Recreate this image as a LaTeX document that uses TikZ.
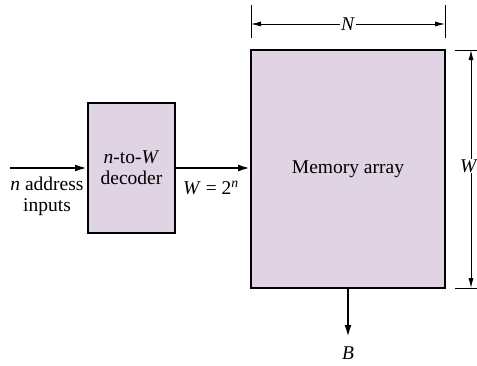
\documentclass[tikz,border=0pt]{standalone}
\usepackage{fontspec}
\setmainfont{Liberation Serif}
\usetikzlibrary{arrows.meta}
\definecolor{boxfill}{RGB}{224,212,228}
\begin{document}
\begin{tikzpicture}[x=1pt,y=-1pt,
  blk/.style={draw=black,line width=2pt,fill=boxfill,inner sep=0pt,font=\fontsize{19.5}{21}\selectfont,align=center},
  sig/.style={line width=2pt,-{Latex[length=12pt,width=7pt]}},
  dim/.style={line width=0.8pt,{Latex[length=10pt,width=5pt]}-{Latex[length=10pt,width=5pt]}},
  tick/.style={line width=0.8pt},
  lbl/.style={font=\fontsize{19.5}{21}\selectfont,inner sep=1pt,align=center}]
\useasboundingbox (0,0) rectangle (477,365);
\node[blk,minimum width=87pt,minimum height=130pt] (dec) at (131.5,168) {\textit{n}-to-\textit{W}\\decoder};
\node[blk,minimum width=194pt,minimum height=238pt] (mem) at (348,169) {Memory array};
\coordinate (in) at (10,168);
\draw[sig] (in) -- (dec.west);
\draw[sig] (dec.east) -- (mem.west |- dec.east);
\node[lbl] (inl) at (47,196) {\textit{n} address\\inputs};
\node[lbl] (wl) at (211,188) {\textit{W} = 2\textsuperscript{\textit{n}}};
% N dimension
\coordinate (nt1a) at (251,5); \coordinate (nt1b) at (251,38);
\coordinate (nt2a) at (445,5); \coordinate (nt2b) at (445,38);
\draw[tick] (nt1a) -- (nt1b);
\draw[tick] (nt2a) -- (nt2b);
\coordinate (na) at (251,24); \coordinate (nb) at (445,24);
\draw[dim] (na) -- (nb);
\node[lbl,fill=white] (nlab) at (348,24) {\textit{N}};
% W dimension
\coordinate (wt1a) at (455,50); \coordinate (wt1b) at (477,50);
\coordinate (wt2a) at (455,288); \coordinate (wt2b) at (477,288);
\draw[tick] (wt1a) -- (wt1b);
\draw[tick] (wt2a) -- (wt2b);
\coordinate (wa) at (471,50); \coordinate (wb) at (471,288);
\draw[dim] (wa) -- (wb);
\node[lbl,fill=white,inner sep=0.5pt] (wlab) at (469,166) {\textit{W}};
% B output
\coordinate (bo) at (348,337);
\draw[sig] (mem.south) -- (bo);
\node[lbl,inner sep=0pt] (blab) at (348,353) {\textit{B}};
\end{tikzpicture}
\end{document}
